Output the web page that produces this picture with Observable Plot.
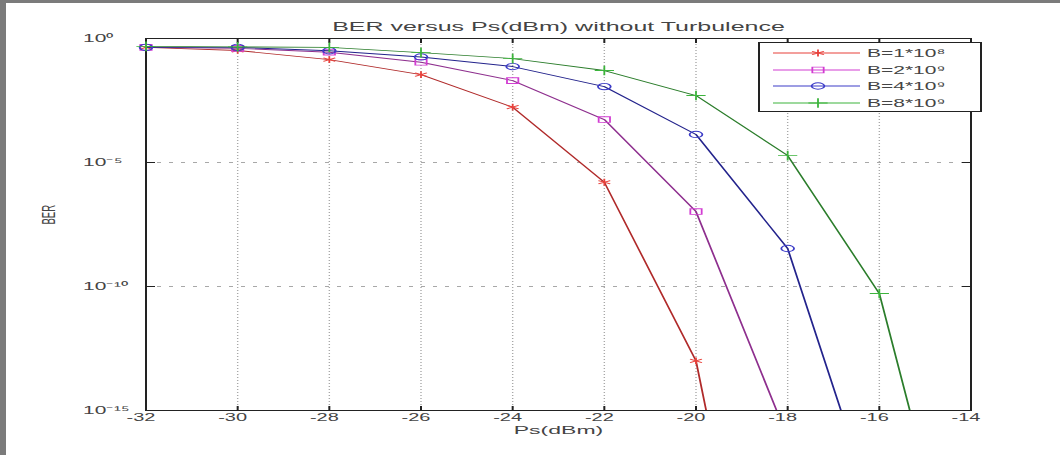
<!DOCTYPE html>
<html><head><meta charset="utf-8">
<script src="https://cdn.jsdelivr.net/npm/d3@7"></script>
<script src="https://cdn.jsdelivr.net/npm/@observablehq/plot@0.6"></script>
<style>
html,body{margin:0;padding:0;background:#fff;}
#page{position:relative;width:1060px;height:455px;overflow:hidden;background:#fff;}
#stretch{position:absolute;left:0;top:0;width:530px;height:455px;transform:scaleX(2);transform-origin:0 0;}
#stretch > svg{position:absolute;left:0;top:0;}
#legend{position:absolute;left:378.5px;top:42px;width:110px;height:68px;border:1px solid #222;background:#fff;font:10.5px "Liberation Sans",Arial,sans-serif;color:#444;}
#legend .row{position:absolute;left:0;height:16px;width:110px;}
#legend .row svg{position:absolute;left:0;top:0;}
#legend .row span{position:absolute;left:54px;top:1px;line-height:14px;white-space:nowrap;}
.strip{position:absolute;background:#7b7b7b;}
</style></head><body>
<div id="page">
  <div id="stretch"></div>
  <div class="strip" style="left:0;top:0;width:6px;height:455px"></div>
  <div class="strip" style="left:0;top:0;width:1060px;height:3px"></div>
</div>
<script>
// ---- data ----
const ps = [-32, -30, -28, -26, -24, -22, -20, -18, -16, -14];
const ber1 = [0.44, 0.33, 0.14, 0.035, 1.7e-3, 1.6e-6, 1e-13, 1e-31];
const ber2 = [0.44, 0.40, 0.28, 0.11, 0.02, 5.4e-4, 1.05e-7, 8e-17, 1e-39];
const ber4 = [0.44, 0.44, 0.32, 0.18, 0.074, 0.0115, 1.35e-4, 3.4e-9, 2e-20, 1e-48];
const ber8 = [0.48, 0.46, 0.44, 0.27, 0.155, 0.051, 5e-3, 1.9e-5, 5.2e-11, 3.5e-25];
const seriesNames = ["B=1*10⁸", "B=2*10⁹", "B=4*10⁹", "B=8*10⁹"];
const seriesValues = [ber1, ber2, ber4, ber8];
const lineColors = ["#b02a2a", "#8e2f8e", "#23238c", "#2b7d2b"];
const markerColors = ["#e8403a", "#d23cd2", "#3c3cc8", "#3cb43c"];
const symbolNames = ["asterisk", "square", "circle", "plus"];
const d3Symbols = [d3.symbolAsterisk, d3.symbolSquare, d3.symbolCircle, d3.symbolPlus];
const xTicks = [-32, -30, -28, -26, -24, -22, -20, -18, -16, -14];
const yTickExp = [0, -5, -10, -15];
const yTickLabels = ["10⁰", "10⁻⁵", "10⁻¹⁰", "10⁻¹⁵"];
const titleText = "BER versus Ps(dBm) without Turbulence";
const xLabel = "Ps(dBm)";
const yLabel = "BER";

const yTicks = yTickExp.map(e => Math.pow(10, e));
const rowsBySeries = seriesValues.map((vals, s) =>
  vals.map((b, i) => ({ps: ps[i], ber: b, series: seriesNames[s]})));
const R = 3.2;
const TXT = "#444";

const seriesMarks = rowsBySeries.flatMap((rows, s) => [
  Plot.line(rows, {x: "ps", y: "ber", stroke: lineColors[s], strokeWidth: 0.9, clip: true}),
  Plot.dot(rows.filter(d => d.ber >= 1e-15), {x: "ps", y: "ber", symbol: () => symbolNames[s], stroke: markerColors[s], fill: "none", strokeWidth: 0.9, r: R})
]);

const chart = Plot.plot({
  width: 530, height: 455,
  marginLeft: 72.5, marginRight: 45, marginTop: 38, marginBottom: 45,
  style: {fontFamily: '"Liberation Sans", Arial, sans-serif', fontSize: "10px", color: TXT, background: "transparent", overflow: "visible"},
  x: {domain: [-32, -14]},
  y: {type: "log", domain: [1e-15, 1]},
  symbol: {type: "identity"},
  marks: [
    Plot.gridX(xTicks, {stroke: "#a8a8a8", strokeOpacity: 1, strokeWidth: 0.7, strokeDasharray: "1,2"}),
    Plot.gridY(yTicks.slice(1, 3), {stroke: "#a8a8a8", strokeOpacity: 1, strokeWidth: 1, strokeDasharray: "2,4"}),
    Plot.axisX(xTicks, {tickSize: 0, tickPadding: 3, dx: -2.5, label: null, fill: TXT, fontSize: 10, tickFormat: d => String(d)}),
    Plot.axisX(xTicks, {anchor: "bottom", tickSize: -4, text: null, label: null, stroke: "#222"}),
    Plot.axisX(xTicks, {anchor: "top", tickSize: -4, text: null, label: null, stroke: "#222"}),
    Plot.axisY(yTicks, {tickSize: 0, tickPadding: 31.5, textAnchor: "start", label: null, fill: TXT, fontSize: 10.5, tickFormat: d => yTickLabels[yTicks.indexOf(d)]}),
    Plot.axisY(yTicks, {anchor: "left", tickSize: -5, text: null, label: null, stroke: "#222"}),
    Plot.axisY(yTicks, {anchor: "right", tickSize: -5, text: null, label: null, stroke: "#222"}),
    Plot.frame({stroke: "#222", strokeWidth: 1}),
    ...seriesMarks,
    Plot.text([titleText], {text: d => d, frameAnchor: "top", dy: -16, fontSize: 12.5, fill: TXT}),
    Plot.text([xLabel], {text: d => d, frameAnchor: "bottom", dy: 23.5, fontSize: 11.5, fill: TXT}),
    Plot.text([yLabel], {text: d => d, frameAnchor: "left", dx: -48.5, rotate: -90, fontSize: 9.5, fill: TXT})
  ]
});
const stretch = document.getElementById("stretch");
stretch.appendChild(chart);

// ---- legend ----
const legend = d3.select(stretch).append("div").attr("id", "legend");
const rowTops = [2, 19, 35, 52];
seriesNames.forEach((name, s) => {
  const row = legend.append("div").attr("class", "row").style("top", rowTops[s] + "px");
  const svg = row.append("svg").attr("width", 54).attr("height", 16);
  svg.append("line").attr("x1", 6.5).attr("x2", 50).attr("y1", 8).attr("y2", 8)
    .attr("stroke", markerColors[s]).attr("stroke-width", 0.9);
  svg.append("path").attr("transform", "translate(29,8)")
    .attr("d", d3.symbol(d3Symbols[s], Math.PI * R * R)())
    .attr("fill", "none").attr("stroke", markerColors[s]).attr("stroke-width", 0.9);
  row.append("span").text(name);
});
</script>
</body></html>
